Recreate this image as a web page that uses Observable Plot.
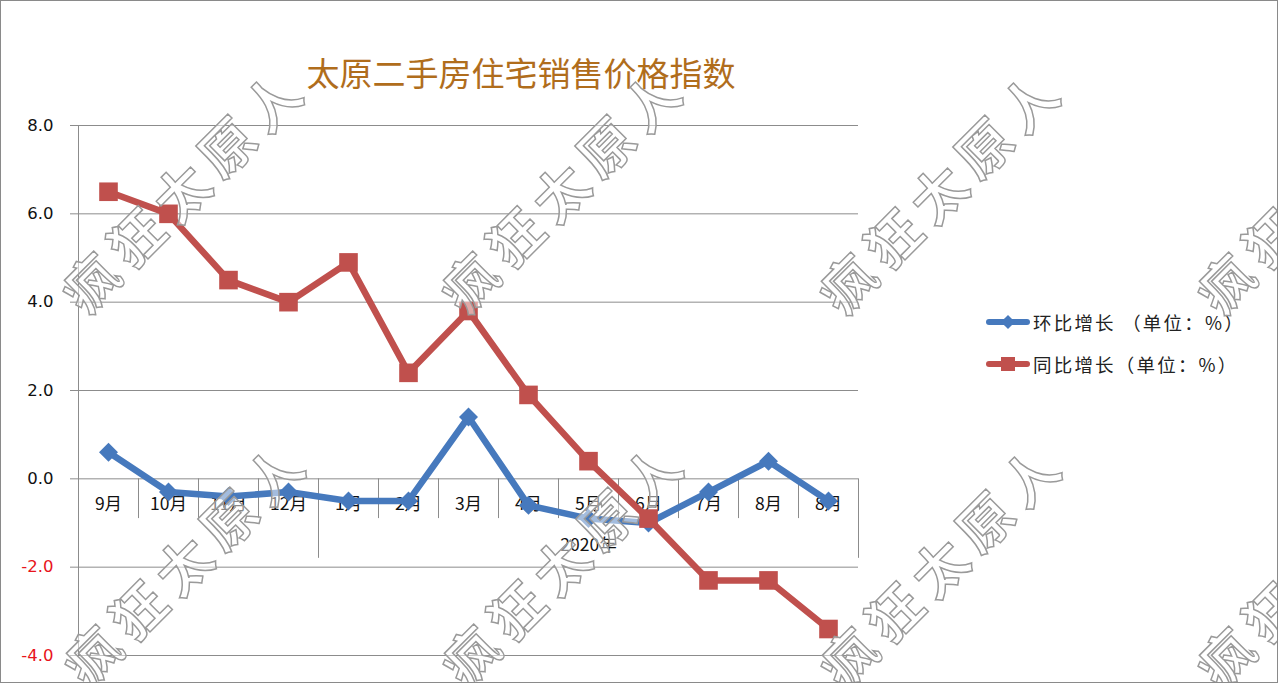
<!DOCTYPE html>
<html>
<head>
<meta charset="utf-8">
<script src="https://cdn.jsdelivr.net/npm/d3@7"></script>
<script src="https://cdn.jsdelivr.net/npm/@observablehq/plot@0.6"></script>
<style>
  html, body { margin: 0; padding: 0; background: #fff; }
  #wrap { position: relative; width: 1278px; height: 683px; overflow: hidden; }
  #border { position: absolute; left: 0; top: 0; width: 1278px; height: 683px; box-sizing: border-box; border: 1px solid #8a8a8a; pointer-events: none; }
  #title { position: absolute; left: 171px; width: 700px; top: 50px; height: 44px; line-height: 44px; text-align: center;
           font-family: "Noto Sans CJK SC", sans-serif; font-size: 33px; color: #b06d1c; }
  .leg { position: absolute; left: 986px; height: 26px; display: flex; align-items: center;
         font-family: "Noto Sans CJK SC", sans-serif; font-size: 18.5px; letter-spacing: 2.2px; color: #222; white-space: pre; }
  .leg svg { margin-right: 3px; }
  #wm { position: absolute; left: 0; top: 0; pointer-events: none; }
</style>
</head>
<body>
<div id="wrap">
  <div id="chart"></div>
  <div id="title"></div>
  <div id="legend"></div>
  <svg id="wm" width="1278" height="683"></svg>
  <div id="border"></div>
</div>
<script>
const titleText = "太原二手房住宅销售价格指数";
const categories = ["9月","10月","11月","12月","1月","2月","3月","4月","5月","6月","7月","8月","8月"];
const momValues = [0.6, -0.3, -0.4, -0.3, -0.5, -0.5, 1.4, -0.6, -0.9, -1.0, -0.3, 0.4, -0.5];
const yoyValues = [6.5, 6.0, 4.5, 4.0, 4.9, 2.4, 3.8, 1.9, 0.4, -0.9, -2.3, -2.3, -3.4];
const yTicks = [-4, -2, 0, 2, 4, 6, 8];
const seriesNames = ["环比增长 （单位：%）", "同比增长（单位：%）"];
const seriesColors = ["#4679bd", "#c0504d"];
const yearLabel = "2020年";
const yearStartIndex = 4;
const watermarkText = "疯狂太原人";

const idx = categories.map((_, i) => i);
const mom = idx.map(i => ({i, v: momValues[i]}));
const yoy = idx.map(i => ({i, v: yoyValues[i]}));
const shortSeps = idx.filter(i => i !== yearStartIndex - 1 && i !== idx.length - 1);
const longSeps = [yearStartIndex - 1, idx.length - 1];
const yearCenter = (yearStartIndex + idx.length - 1) / 2;

const plot = Plot.plot({
  width: 1278,
  height: 683,
  marginLeft: 78,
  marginRight: 420,
  marginTop: 125,
  marginBottom: 28,
  style: { background: "transparent", overflow: "visible" },
  x: { type: "point", domain: idx, padding: 0.5, axis: null },
  y: { domain: [-4, 8], axis: null },
  marks: [
    Plot.gridY(yTicks, { stroke: "#8c8c8c", strokeOpacity: 1 }),
    Plot.axisY(yTicks, {
      tickSize: 8, tickPadding: 17, stroke: "#8c8c8c",
      tickFormat: d => d.toFixed(1),
      fill: d => d < 0 ? "#e8141b" : "#111",
      fontSize: 16.5, fontFamily: "DejaVu Sans, sans-serif", label: null
    }),
    Plot.frame({ anchor: "left", stroke: "#8c8c8c" }),
    Plot.ruleX(shortSeps, { x: d => d, dx: 30, y1: 0, y2: -0.9, stroke: "#8c8c8c" }),
    Plot.ruleX(longSeps, { x: d => d, dx: 30, y1: 0, y2: -1.8, stroke: "#8c8c8c" }),
    Plot.text(idx, { x: d => d, y: 0, dy: 26, text: d => categories[d], fontSize: 17.5,
      fontFamily: "Noto Sans CJK SC, sans-serif", fill: "#111" }),
    Plot.text([yearLabel], { x: [yearCenter], y: [-1.5], text: d => d, fontSize: 17.5,
      fontFamily: "Noto Sans CJK SC, sans-serif", fill: "#111" }),
    Plot.line(mom, { x: "i", y: "v", stroke: seriesColors[0], strokeWidth: 6.5, strokeLinejoin: "miter" }),
    Plot.dot(mom, { x: "i", y: "v", symbol: "square", r: 7.6, rotate: 45, fill: seriesColors[0], stroke: "none" }),
    Plot.line(yoy, { x: "i", y: "v", stroke: seriesColors[1], strokeWidth: 6.5, strokeLinejoin: "miter" }),
    Plot.dot(yoy, { x: "i", y: "v", symbol: "square", r: 10.5, fill: seriesColors[1], stroke: "none" })
  ]
});
document.getElementById("chart").appendChild(plot);
document.getElementById("title").textContent = titleText;

// legend
const legend = document.getElementById("legend");
const legTops = [309, 351];
seriesNames.forEach((name, k) => {
  const div = document.createElement("div");
  div.className = "leg";
  div.style.top = legTops[k] + "px";
  const marker = k === 0
    ? `<rect x="17" y="5" width="10" height="10" transform="rotate(45 22 10)" fill="${seriesColors[k]}"/>`
    : `<rect x="15" y="3" width="14" height="14" fill="${seriesColors[k]}"/>`;
  div.innerHTML = `<svg width="44" height="20"><line x1="3" x2="41" y1="10" y2="10" stroke="${seriesColors[k]}" stroke-width="6" stroke-linecap="round"/>${marker}</svg>`;
  const span = document.createElement("span");
  span.textContent = name;
  div.appendChild(span);
  legend.appendChild(div);
});

// watermarks
const wm = d3.select("#wm");
const wmCenters = [[183,187],[562,187],[940,188],[1318,188],[185,560],[563,560],[941,562],[1318,562]];
wmCenters.forEach(([cx, cy]) => {
  wm.append("text")
    .attr("transform", `translate(${cx},${cy}) rotate(-45)`)
    .attr("text-anchor", "middle")
    .attr("dominant-baseline", "central")
    .attr("font-family", "Noto Sans CJK SC, sans-serif")
    .attr("font-size", 54)
    .attr("font-weight", 700)
    .attr("letter-spacing", 10)
    .attr("fill", "#fff")
    .attr("fill-opacity", 0.5)
    .attr("stroke", "#9a9a9a")
    .attr("stroke-width", 1.5)
    .text(watermarkText);
});
</script>
</body>
</html>
